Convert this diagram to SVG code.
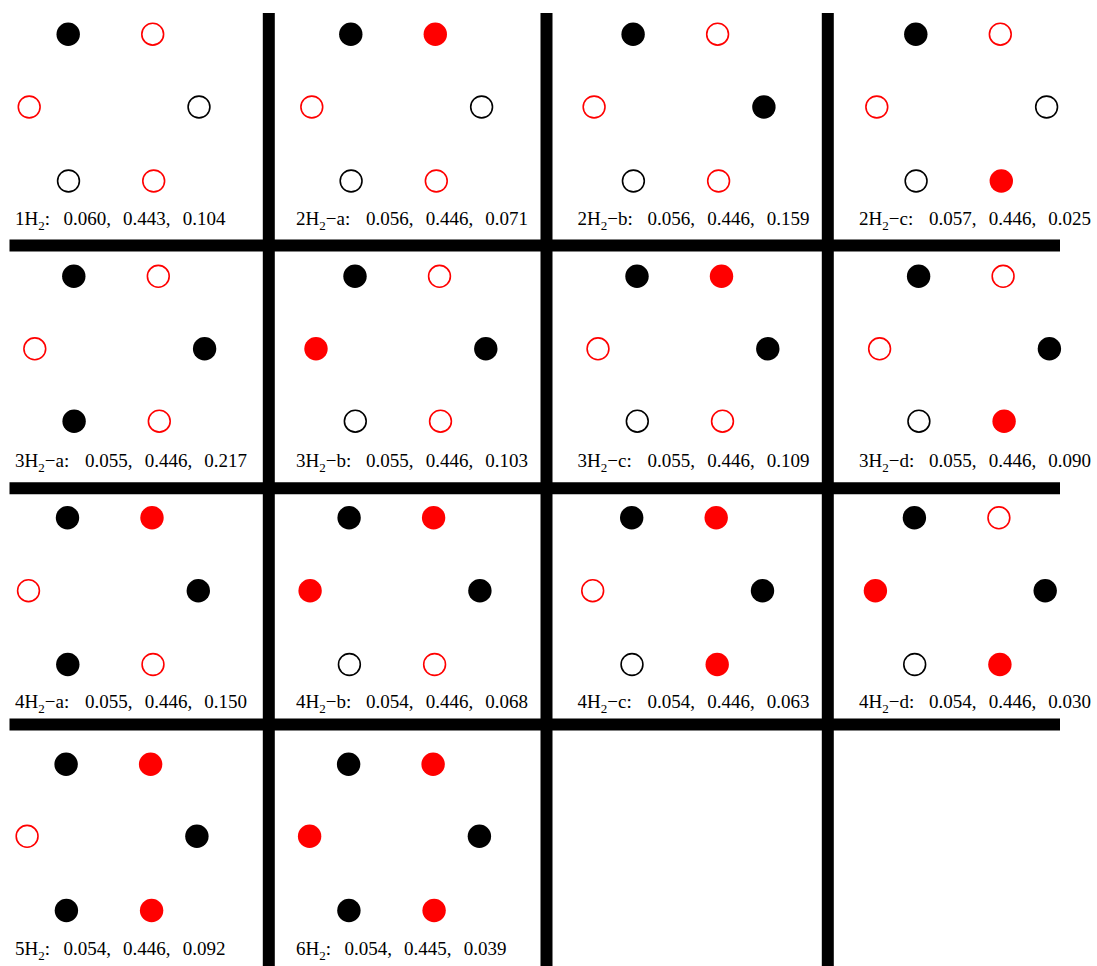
<svg xmlns="http://www.w3.org/2000/svg" width="1097" height="966" viewBox="0 0 1097 966">
<style>
.K{fill:#000}
.k{fill:none;stroke:#000;stroke-width:1.6}
.R{fill:#f00}
.r{fill:none;stroke:#f00;stroke-width:1.6}
.lb{font-family:"Liberation Serif","Times New Roman",serif;font-size:19px;fill:#000}
.sub{font-size:13px}
.ln{stroke:#000;stroke-width:12;fill:none}
</style>
<rect width="1097" height="966" fill="#fff"/>
<g id="grid-lines">
<line class="ln" x1="268.8" y1="13" x2="268.8" y2="966"/>
<line class="ln" x1="546.5" y1="13" x2="546.5" y2="966"/>
<line class="ln" x1="827.8" y1="13" x2="827.8" y2="966"/>
<line class="ln" x1="9.5" y1="245.6" x2="1060" y2="245.6"/>
<line class="ln" x1="9.5" y1="488.3" x2="1060" y2="488.3"/>
<line class="ln" x1="9.5" y1="724.5" x2="1060" y2="724.5"/>
</g>

<g id="cell-1H2">
<circle class="K" cx="68.2" cy="34.2" r="11.7"/><circle class="r" cx="152.7" cy="34.2" r="10.9"/>
<circle class="r" cx="29.2" cy="107" r="10.9"/><circle class="k" cx="199" cy="107" r="10.9"/>
<circle class="k" cx="68.5" cy="181" r="10.9"/><circle class="r" cx="153.7" cy="181" r="10.9"/>
<text class="lb" x="15" y="225">1H<tspan class="sub" dy="5">2</tspan><tspan dy="-5">:</tspan><tspan x="63.5">0.060,</tspan><tspan x="123">0.443,</tspan><tspan x="182.7">0.104</tspan></text>
</g>
<g id="cell-2H2-a">
<circle class="K" cx="350.8" cy="34.2" r="11.7"/><circle class="R" cx="435.3" cy="34.2" r="11.7"/>
<circle class="r" cx="311.8" cy="107" r="10.9"/><circle class="k" cx="481.6" cy="107" r="10.9"/>
<circle class="k" cx="351.1" cy="181" r="10.9"/><circle class="r" cx="436.3" cy="181" r="10.9"/>
<text class="lb" x="296" y="225">2H<tspan class="sub" dy="5">2</tspan><tspan dy="-5">−a:</tspan><tspan x="366">0.056,</tspan><tspan x="425.7">0.446,</tspan><tspan x="485.3">0.071</tspan></text>
</g>
<g id="cell-2H2-b">
<circle class="K" cx="633.1" cy="34.2" r="11.7"/><circle class="r" cx="717.6" cy="34.2" r="10.9"/>
<circle class="r" cx="594.1" cy="107" r="10.9"/><circle class="K" cx="763.9" cy="107" r="11.7"/>
<circle class="k" cx="633.4" cy="181" r="10.9"/><circle class="r" cx="718.6" cy="181" r="10.9"/>
<text class="lb" x="577.5" y="225">2H<tspan class="sub" dy="5">2</tspan><tspan dy="-5">−b:</tspan><tspan x="647.5">0.056,</tspan><tspan x="707.2">0.446,</tspan><tspan x="766.8">0.159</tspan></text>
</g>
<g id="cell-2H2-c">
<circle class="K" cx="915.8" cy="34.2" r="11.7"/><circle class="r" cx="1000.3" cy="34.2" r="10.9"/>
<circle class="r" cx="876.8" cy="107" r="10.9"/><circle class="k" cx="1046.6" cy="107" r="10.9"/>
<circle class="k" cx="916.1" cy="181" r="10.9"/><circle class="R" cx="1001.3" cy="181" r="11.7"/>
<text class="lb" x="859" y="225">2H<tspan class="sub" dy="5">2</tspan><tspan dy="-5">−c:</tspan><tspan x="929">0.057,</tspan><tspan x="988.7">0.446,</tspan><tspan x="1048.3">0.025</tspan></text>
</g>

<g id="cell-3H2-a">
<circle class="K" cx="73.8" cy="276.3" r="11.7"/><circle class="r" cx="158.3" cy="276.3" r="10.9"/>
<circle class="r" cx="34.8" cy="348.8" r="10.9"/><circle class="K" cx="204.6" cy="348.8" r="11.7"/>
<circle class="K" cx="74.1" cy="421.2" r="11.7"/><circle class="r" cx="159.3" cy="421.2" r="10.9"/>
<text class="lb" x="15" y="466.7">3H<tspan class="sub" dy="5">2</tspan><tspan dy="-5">−a:</tspan><tspan x="85">0.055,</tspan><tspan x="144.7">0.446,</tspan><tspan x="204.3">0.217</tspan></text>
</g>
<g id="cell-3H2-b">
<circle class="K" cx="355" cy="276.3" r="11.7"/><circle class="r" cx="439.5" cy="276.3" r="10.9"/>
<circle class="R" cx="316" cy="348.8" r="11.7"/><circle class="K" cx="485.8" cy="348.8" r="11.7"/>
<circle class="k" cx="355.3" cy="421.2" r="10.9"/><circle class="r" cx="440.5" cy="421.2" r="10.9"/>
<text class="lb" x="296" y="466.7">3H<tspan class="sub" dy="5">2</tspan><tspan dy="-5">−b:</tspan><tspan x="366">0.055,</tspan><tspan x="425.7">0.446,</tspan><tspan x="485.3">0.103</tspan></text>
</g>
<g id="cell-3H2-c">
<circle class="K" cx="637" cy="276.3" r="11.7"/><circle class="R" cx="721.5" cy="276.3" r="11.7"/>
<circle class="r" cx="598" cy="348.8" r="10.9"/><circle class="K" cx="767.8" cy="348.8" r="11.7"/>
<circle class="k" cx="637.3" cy="421.2" r="10.9"/><circle class="r" cx="722.5" cy="421.2" r="10.9"/>
<text class="lb" x="577.5" y="466.7">3H<tspan class="sub" dy="5">2</tspan><tspan dy="-5">−c:</tspan><tspan x="647.5">0.055,</tspan><tspan x="707.2">0.446,</tspan><tspan x="766.8">0.109</tspan></text>
</g>
<g id="cell-3H2-d">
<circle class="K" cx="918.6" cy="276.3" r="11.7"/><circle class="r" cx="1003.1" cy="276.3" r="10.9"/>
<circle class="r" cx="879.6" cy="348.8" r="10.9"/><circle class="K" cx="1049.4" cy="348.8" r="11.7"/>
<circle class="k" cx="918.9" cy="421.2" r="10.9"/><circle class="R" cx="1004.1" cy="421.2" r="11.7"/>
<text class="lb" x="859" y="466.7">3H<tspan class="sub" dy="5">2</tspan><tspan dy="-5">−d:</tspan><tspan x="929">0.055,</tspan><tspan x="988.7">0.446,</tspan><tspan x="1048.3">0.090</tspan></text>
</g>

<g id="cell-4H2-a">
<circle class="K" cx="67.5" cy="517.8" r="11.7"/><circle class="R" cx="152" cy="517.8" r="11.7"/>
<circle class="r" cx="28.5" cy="590.7" r="10.9"/><circle class="K" cx="198.3" cy="590.7" r="11.7"/>
<circle class="K" cx="67.8" cy="664.5" r="11.7"/><circle class="r" cx="153" cy="664.5" r="10.9"/>
<text class="lb" x="15" y="707.7">4H<tspan class="sub" dy="5">2</tspan><tspan dy="-5">−a:</tspan><tspan x="85">0.055,</tspan><tspan x="144.7">0.446,</tspan><tspan x="204.3">0.150</tspan></text>
</g>
<g id="cell-4H2-b">
<circle class="K" cx="349.1" cy="517.8" r="11.7"/><circle class="R" cx="433.6" cy="517.8" r="11.7"/>
<circle class="R" cx="310.1" cy="590.7" r="11.7"/><circle class="K" cx="479.9" cy="590.7" r="11.7"/>
<circle class="k" cx="349.4" cy="664.5" r="10.9"/><circle class="r" cx="434.6" cy="664.5" r="10.9"/>
<text class="lb" x="296" y="707.7">4H<tspan class="sub" dy="5">2</tspan><tspan dy="-5">−b:</tspan><tspan x="366">0.054,</tspan><tspan x="425.7">0.446,</tspan><tspan x="485.3">0.068</tspan></text>
</g>
<g id="cell-4H2-c">
<circle class="K" cx="631.7" cy="517.8" r="11.7"/><circle class="R" cx="716.2" cy="517.8" r="11.7"/>
<circle class="r" cx="592.7" cy="590.7" r="10.9"/><circle class="K" cx="762.5" cy="590.7" r="11.7"/>
<circle class="k" cx="632" cy="664.5" r="10.9"/><circle class="R" cx="717.2" cy="664.5" r="11.7"/>
<text class="lb" x="577.5" y="707.7">4H<tspan class="sub" dy="5">2</tspan><tspan dy="-5">−c:</tspan><tspan x="647.5">0.054,</tspan><tspan x="707.2">0.446,</tspan><tspan x="766.8">0.063</tspan></text>
</g>
<g id="cell-4H2-d">
<circle class="K" cx="914.4" cy="517.8" r="11.7"/><circle class="r" cx="998.9" cy="517.8" r="10.9"/>
<circle class="R" cx="875.4" cy="590.7" r="11.7"/><circle class="K" cx="1045.2" cy="590.7" r="11.7"/>
<circle class="k" cx="914.7" cy="664.5" r="10.9"/><circle class="R" cx="999.9" cy="664.5" r="11.7"/>
<text class="lb" x="859" y="707.7">4H<tspan class="sub" dy="5">2</tspan><tspan dy="-5">−d:</tspan><tspan x="929">0.054,</tspan><tspan x="988.7">0.446,</tspan><tspan x="1048.3">0.030</tspan></text>
</g>

<g id="cell-5H2">
<circle class="K" cx="66.1" cy="764.2" r="11.7"/><circle class="R" cx="150.6" cy="764.2" r="11.7"/>
<circle class="r" cx="27.1" cy="836.3" r="10.9"/><circle class="K" cx="196.9" cy="836.3" r="11.7"/>
<circle class="K" cx="66.4" cy="910.5" r="11.7"/><circle class="R" cx="151.6" cy="910.5" r="11.7"/>
<text class="lb" x="15" y="955">5H<tspan class="sub" dy="5">2</tspan><tspan dy="-5">:</tspan><tspan x="63.5">0.054,</tspan><tspan x="123">0.446,</tspan><tspan x="182.7">0.092</tspan></text>
</g>
<g id="cell-6H2">
<circle class="K" cx="348.6" cy="764.2" r="11.7"/><circle class="R" cx="433.1" cy="764.2" r="11.7"/>
<circle class="R" cx="309.6" cy="836.3" r="11.7"/><circle class="K" cx="479.4" cy="836.3" r="11.7"/>
<circle class="K" cx="348.9" cy="910.5" r="11.7"/><circle class="R" cx="434.1" cy="910.5" r="11.7"/>
<text class="lb" x="296" y="955">6H<tspan class="sub" dy="5">2</tspan><tspan dy="-5">:</tspan><tspan x="344.5">0.054,</tspan><tspan x="404">0.445,</tspan><tspan x="463.7">0.039</tspan></text>
</g>
</svg>
